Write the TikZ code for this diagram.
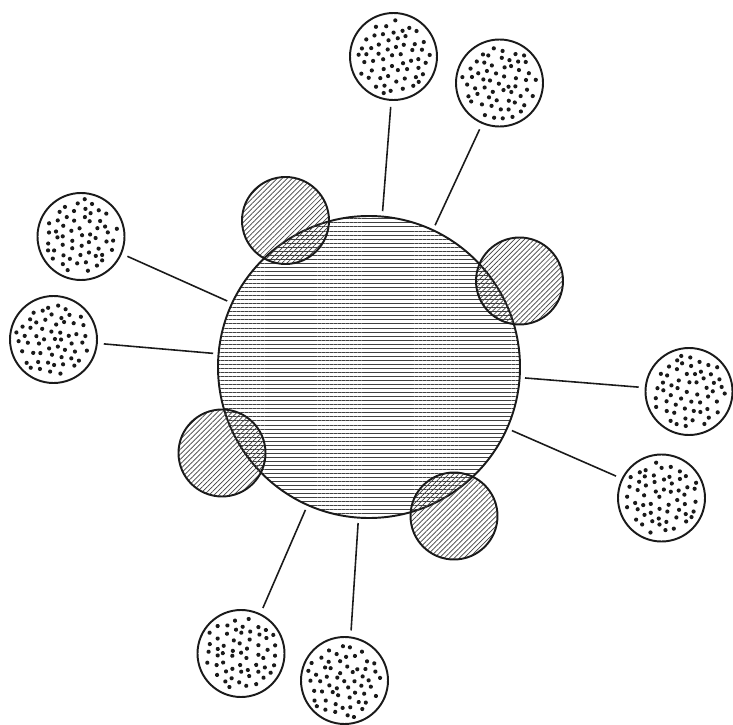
\documentclass[tikz,border=0pt]{standalone}
\usepackage{xcolor}
\usepackage{tikz}
\usetikzlibrary{patterns.meta}
\definecolor{cellink}{HTML}{1a1a1a}
\definecolor{cellhatch}{HTML}{404040}

\begin{document}
\begin{tikzpicture}[x=1cm,y=1cm,
  core/.style={circle,draw=cellink,line width=1.1pt,minimum size=6.04cm,inner sep=0pt,
    pattern={Lines[angle=0,distance=2.3pt,line width=0.45pt]},pattern color=cellhatch},
  bud/.style={circle,draw=cellink,line width=1.1pt,minimum size=1.74cm,inner sep=0pt,
    pattern={Lines[angle=45,distance=2pt,line width=0.4pt]},pattern color=cellhatch},
  spore/.style={circle,draw=cellink,line width=1.1pt,minimum size=1.74cm,inner sep=0pt,fill=white},
  stalk/.style={draw=cellink,line width=0.9pt,shorten <=0.1cm,shorten >=0.12cm}]
  \useasboundingbox (0,0) rectangle (14.66,14.48);
  \node[core] (nucleus) at (7.38,7.14) {};
  \node[bud] (h1) at (5.71,10.07) {};
  \node[bud] (h2) at (10.39,8.86) {};
  \node[bud] (h3) at (4.44,5.42) {};
  \node[bud] (h4) at (9.08,4.16) {};
  \node[spore] (p1) at (7.87,13.35) {};
  \node[spore] (p2) at (9.99,12.82) {};
  \node[spore] (p3) at (1.62,9.75) {};
  \node[spore] (p4) at (1.07,7.69) {};
  \node[spore] (p5) at (13.78,6.65) {};
  \node[spore] (p6) at (13.23,4.52) {};
  \node[spore] (p7) at (4.82,1.41) {};
  \node[spore] (p8) at (6.89,0.87) {};
  \pgfmathsetseed{7}
  \foreach \n in {p1,p2,p3,p4,p5,p6,p7,p8} {
    \pgfmathsetmacro\turn{360*rnd}
    \begin{scope}[shift={(\n.center)},rotate=\turn]
      \foreach \i in {-5,...,5} {
        \foreach \j in {-5,...,5} {
          \pgfmathsetmacro\dx{0.19*\i+0.095*mod(abs(\j),2)+0.045*rand}
          \pgfmathsetmacro\dy{0.165*\j+0.045*rand}
          \pgfmathtruncatemacro\inside{veclen(\dx,\dy)<0.76}
          \ifnum\inside=1
            \fill[cellink] (\dx,\dy) circle[radius=0.042cm];
          \fi
        }
      }
    \end{scope}
  }
  \draw[stalk] (nucleus.85) -- (p1.267);
  \draw[stalk] (nucleus.65) -- (p2.247);
  \draw[stalk] (nucleus.155) -- (p3.337);
  \draw[stalk] (nucleus.175) -- (p4.355);
  \draw[stalk] (nucleus.356) -- (p5.175);
  \draw[stalk] (nucleus.336) -- (p6.154);
  \draw[stalk] (nucleus.246) -- (p7.64);
  \draw[stalk] (nucleus.266) -- (p8.82);
\end{tikzpicture}
\end{document}
